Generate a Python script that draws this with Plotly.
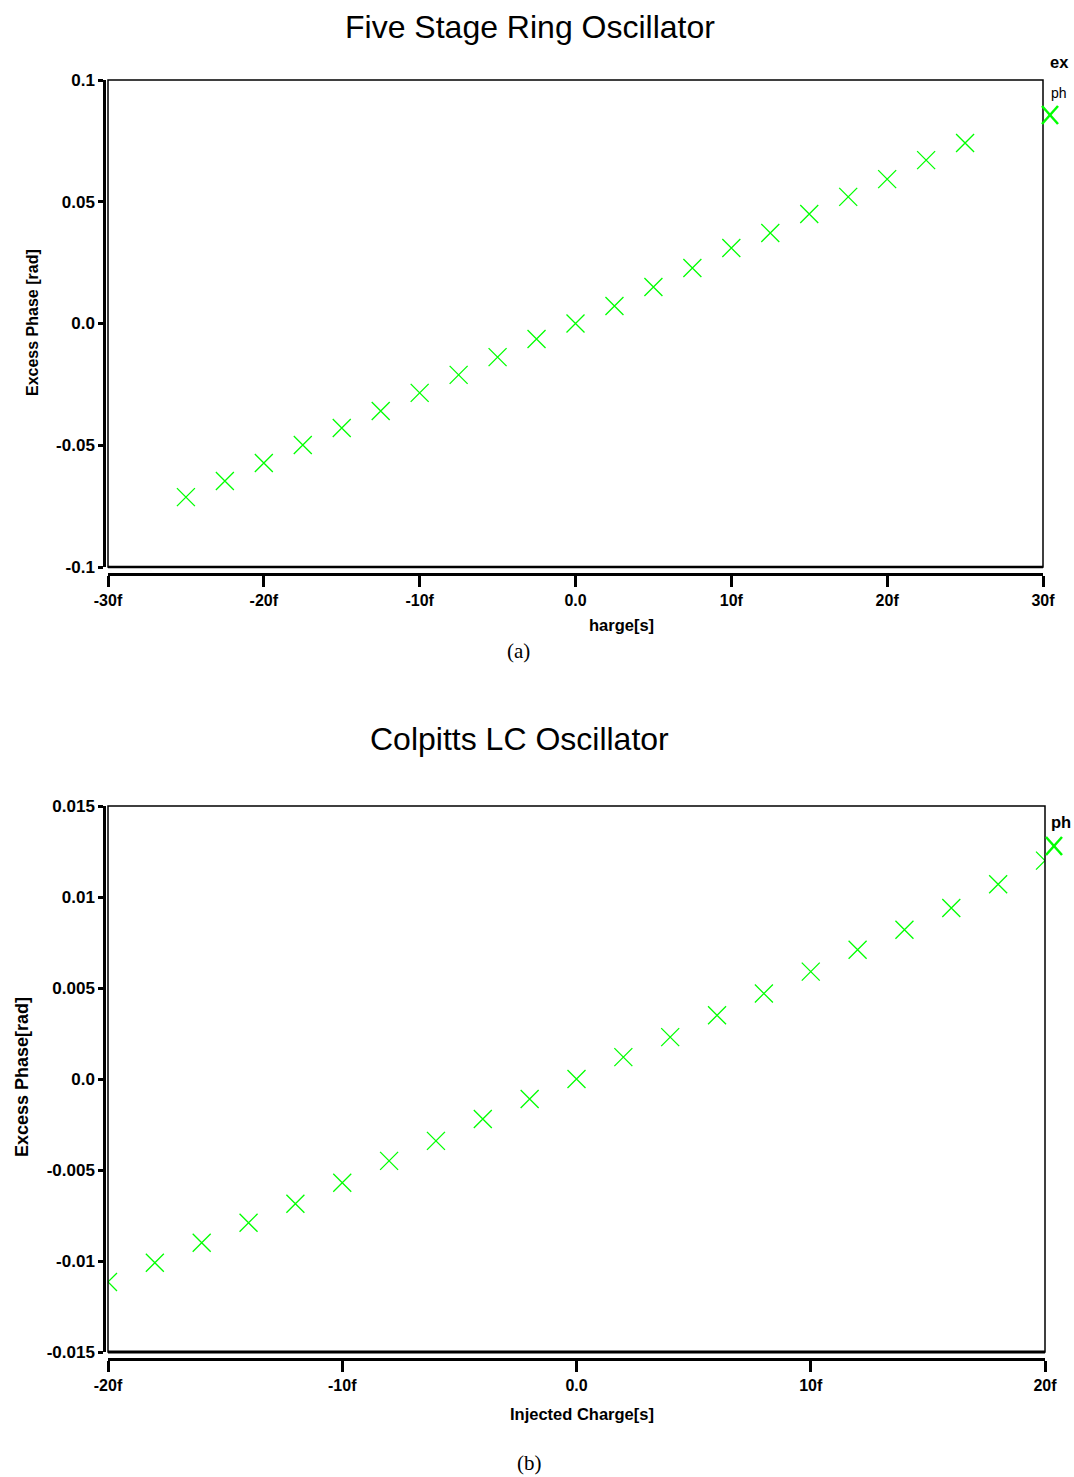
import plotly.graph_objects as go

# ---------------- data ----------------
ring_charge_f = [-25, -22.5, -20, -17.5, -15, -12.5, -10, -7.5, -5, -2.5, 0,
                 2.5, 5, 7.5, 10, 12.5, 15, 17.5, 20, 22.5, 25]
ring_phase = [-0.0713, -0.0647, -0.0573, -0.0499, -0.0429, -0.0359, -0.0285,
              -0.0211, -0.0138, -0.0064, 0.0, 0.0072, 0.0150, 0.0228, 0.0310,
              0.0372, 0.0450, 0.0520, 0.0593, 0.0671, 0.0741]

colp_charge_f = [-20, -18, -16, -14, -12, -10, -8, -6, -4, -2, 0,
                 2, 4, 6, 8, 10, 12, 14, 16, 18, 20]
colp_phase = [-0.01115, -0.0101, -0.0090, -0.0079, -0.00685, -0.0057, -0.0045,
              -0.0034, -0.0022, -0.0011, 0.0, 0.0012, 0.0023, 0.0035, 0.0047,
              0.0059, 0.0071, 0.0082, 0.0094, 0.0107, 0.0120]

ring_xticks = [-30, -20, -10, 0, 10, 20, 30]
ring_xticktext = ["-30f", "-20f", "-10f", "0.0", "10f", "20f", "30f"]
ring_yticks = [-0.1, -0.05, 0.0, 0.05, 0.1]
ring_yticktext = ["-0.1", "-0.05", "0.0", "0.05", "0.1"]

colp_xticks = [-20, -10, 0, 10, 20]
colp_xticktext = ["-20f", "-10f", "0.0", "10f", "20f"]
colp_yticks = [-0.015, -0.01, -0.005, 0.0, 0.005, 0.01, 0.015]
colp_yticktext = ["-0.015", "-0.01", "-0.005", "0.0", "0.005", "0.01", "0.015"]

# ---------------- layout helpers ----------------
W, H = 1074, 1477
def px_x(p):
    return p / W
def px_y(p):
    return (H - p) / H

GREEN = "#00ff00"
XTICKFONT = dict(family="Liberation Sans Narrow, Arial Narrow, Liberation Sans, Arial",
                 size=16, color="black", weight="bold")
YTICKFONT = dict(family="Liberation Sans Narrow, Arial Narrow, Liberation Sans, Arial",
                 size=17, color="black", weight="bold")

fig = go.Figure()

marker = dict(symbol="x-thin-open", size=18, color=GREEN, line=dict(color=GREEN, width=1.3))

fig.add_trace(go.Scatter(x=ring_charge_f, y=ring_phase, mode="markers",
                         marker=marker, xaxis="x", yaxis="y", showlegend=False))
fig.add_trace(go.Scatter(x=colp_charge_f, y=colp_phase, mode="markers",
                         marker=marker, xaxis="x2", yaxis="y2", showlegend=False))

top_dom_x = [px_x(108), px_x(1043)]
top_dom_y = [px_y(567), px_y(80)]
bot_dom_x = [px_x(108), px_x(1045)]
bot_dom_y = [px_y(1352), px_y(806)]

common_x = dict(showgrid=False, zeroline=False, showline=True, linecolor="black",
                linewidth=2.5, ticks="outside", ticklen=11, tickwidth=2.5,
                tickcolor="black", tickfont=XTICKFONT, anchor="free")
common_y = dict(showgrid=False, zeroline=False, showline=True, linecolor="black",
                linewidth=2.5, ticks="outside", ticklen=5, tickwidth=2.5,
                tickcolor="black", tickfont=YTICKFONT, anchor="free")

fig.update_layout(
    width=W, height=H,
    margin=dict(l=0, r=0, t=0, b=0, autoexpand=False),
    paper_bgcolor="white", plot_bgcolor="white",
    xaxis=dict(domain=top_dom_x, range=[-30, 30], tickvals=ring_xticks,
               ticktext=ring_xticktext, position=px_y(574), **common_x),
    yaxis=dict(domain=top_dom_y, range=[-0.1, 0.1], tickvals=ring_yticks,
               ticktext=ring_yticktext, position=px_x(104), **common_y),
    xaxis2=dict(domain=bot_dom_x, range=[-20, 20], tickvals=colp_xticks,
                ticktext=colp_xticktext, position=px_y(1359), **common_x),
    yaxis2=dict(domain=bot_dom_y, range=[-0.015, 0.015], tickvals=colp_yticks,
                ticktext=colp_yticktext, position=px_x(104), **common_y),
)

shapes = []
# plot frames
for xr, yr, lw in [("x domain", "y domain", 1.5), ("x2 domain", "y2 domain", 1.5)]:
    shapes.append(dict(type="rect", xref=xr, yref=yr, x0=0, x1=1, y0=0, y1=1,
                       line=dict(color="black", width=lw), layer="above"))
# thicker bottom frame edges
shapes.append(dict(type="line", xref="x domain", yref="y domain", x0=0, x1=1, y0=0, y1=0,
                   line=dict(color="black", width=2.5)))
shapes.append(dict(type="line", xref="x2 domain", yref="y2 domain", x0=0, x1=1, y0=0, y1=0,
                   line=dict(color="black", width=3)))
# clipped legend markers
for cx, cy in [(1050, 115), (1054, 846)]:
    shapes.append(dict(type="line", xref="paper", yref="paper",
                       x0=px_x(cx - 8), y0=px_y(cy - 9), x1=px_x(cx + 8), y1=px_y(cy + 9),
                       line=dict(color=GREEN, width=2.5)))
    shapes.append(dict(type="line", xref="paper", yref="paper",
                       x0=px_x(cx - 8), y0=px_y(cy + 9), x1=px_x(cx + 8), y1=px_y(cy - 9),
                       line=dict(color=GREEN, width=2.5)))
fig.update_layout(shapes=shapes)

LAB_A = dict(family="Liberation Sans, Arial", size=16, color="black", weight="bold")
LAB_B = dict(family="Liberation Sans, Arial", size=18, color="black", weight="bold")
LABB = dict(family="Liberation Sans Narrow, Arial Narrow, Liberation Sans, Arial",
            size=16.5, color="black", weight="bold")
SMALL = dict(family="Liberation Sans, Arial", size=14, color="black")
TITLE = dict(family="Liberation Sans, Arial", size=32, color="black")
CAP = dict(family="Liberation Serif, Times New Roman, serif", size=21, color="black")

ann = [
    dict(text="Five Stage Ring Oscillator", x=px_x(530), y=px_y(27), font=TITLE),
    dict(text="Colpitts LC Oscillator", x=px_x(519), y=px_y(739), font=TITLE),
    dict(text="Excess Phase [rad]", x=px_x(32), y=px_y(323), font=LAB_A, textangle=-90),
    dict(text="Excess Phase[rad]", x=px_x(22), y=px_y(1077), font=LAB_B, textangle=-90),
    dict(text="harge[s]", x=px_x(621), y=px_y(625), font=LABB),
    dict(text="Injected Charge[s]", x=px_x(582), y=px_y(1414), font=LABB),
    dict(text="(a)", x=px_x(518), y=px_y(651), font=CAP),
    dict(text="(b)", x=px_x(529), y=px_y(1463), font=CAP),
    dict(text="ex", x=px_x(1059), y=px_y(62), font=LABB),
    dict(text="ph", x=px_x(1059), y=px_y(93), font=SMALL),
    dict(text="ph", x=px_x(1061), y=px_y(822), font=LABB),
]
for a in ann:
    a.update(xref="paper", yref="paper", showarrow=False, xanchor="center", yanchor="middle")
fig.update_layout(annotations=ann)

fig.write_html("out.html")
